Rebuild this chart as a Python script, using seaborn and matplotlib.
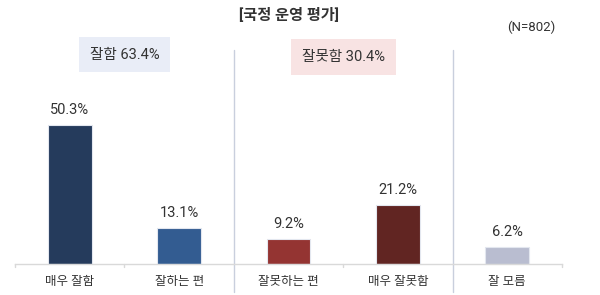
import matplotlib
matplotlib.use("Agg")
import matplotlib.pyplot as plt
import seaborn as sns
import pandas as pd

categories = ["매우 잘함", "잘하는 편", "잘못하는 편", "매우 잘못함", "잘 모름"]
values = [50.3, 13.1, 9.2, 21.2, 6.2]
value_labels = ["50.3%", "13.1%", "9.2%", "21.2%", "6.2%"]
colors = ["#253B5C", "#335C91", "#943432", "#612522", "#B9BDD0"]
group_labels = ["잘함 63.4%", "잘못함 30.4%"]
group_centers = [0.5, 2.5]
group_colors = ["#E9EDF7", "#F8E3E3"]
title = "[국정 운영 평가]"
n_label = "(N=802)"

sns.set_theme(style="white")
plt.rcParams['font.family'] = ['Roboto', 'Noto Sans CJK KR', 'DejaVu Sans']
txt = "#333333"

df = pd.DataFrame({"cat": categories, "val": values})
fig = plt.figure(figsize=(6.0, 2.95), dpi=100)
ax = fig.add_axes([15/600, 31/295, 547/600, 224/295])
sns.barplot(data=df, x="cat", y="val", hue="cat", palette=colors, width=0.4,
            legend=False, ax=ax, edgecolor="#E3E7EF", linewidth=0.8, saturation=1)
ax.set_xlim(-0.5, 4.5)
ax.set_ylim(0, 224/2.76)
for s in ["top", "right", "left"]:
    ax.spines[s].set_visible(False)
ax.spines["bottom"].set_color("#D9D9D9")
ax.spines["bottom"].set_linewidth(1)
ax.set_xlabel("")
ax.set_ylabel("")
ax.set_yticks([])
ax.set_xticks(range(5))
ax.set_xticklabels(categories, fontsize=9, color=txt)
ax.tick_params(axis="x", length=0, pad=8)
# tick marks at category boundaries
for xb in [-0.5, 0.5, 2.5, 4.5]:
    ax.plot([xb, xb], [0, -0.015], transform=ax.get_xaxis_transform(),
            color="#D9D9D9", lw=1, clip_on=False)
# group separators
for xs in [1.5, 3.5]:
    ax.plot([xs, xs], [-0.125, 0.955], transform=ax.get_xaxis_transform(),
            color="#C9CFDD", lw=1, clip_on=False)

for i, (v, lab) in enumerate(zip(values, value_labels)):
    ax.text(i, v + 2.9, lab, ha="center", va="bottom", fontsize=10.5, color=txt)

for c, lab, col, yy in zip(group_centers, group_labels, group_colors, [0.935, 0.925]):
    ax.text(c, yy, lab, transform=ax.get_xaxis_transform(),
            ha="center", va="center", fontsize=10.5, color=txt,
            bbox=dict(boxstyle="square,pad=0.75", fc=col, ec="none"))

fig.text(289/600, 1 - 15/295, title, ha="center", va="center", fontsize=11,
         fontweight="bold", color=txt)
fig.text(531/600, 1 - 27/295, n_label, ha="center", va="center", fontsize=9.5, color=txt)

fig.savefig("out.png", dpi=100)
